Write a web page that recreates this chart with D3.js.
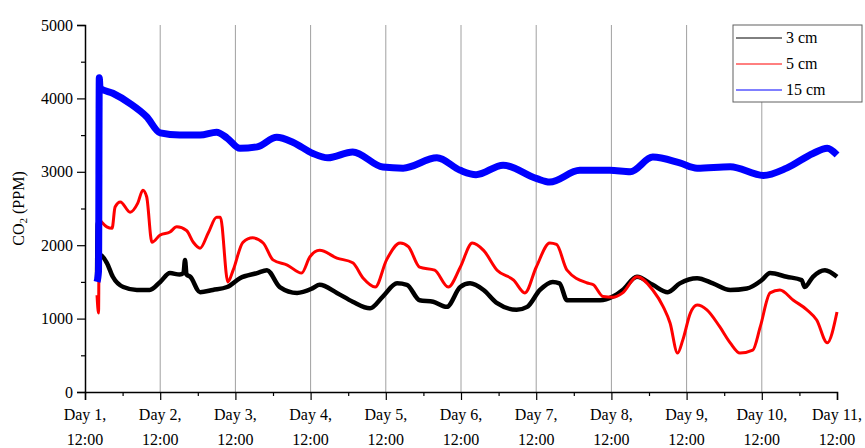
<!DOCTYPE html>
<html>
<head>
<meta charset="utf-8">
<script src="https://cdn.jsdelivr.net/npm/d3@7"></script>
<style>
  body { margin: 0; background: #fff; }
  text { font-family: "Liberation Serif", "DejaVu Serif", serif; fill: #000; }
</style>
</head>
<body>
<svg id="chart" width="865" height="448"></svg>
<script>
// tick labels for the day axis
var dayTicks = [1, 2, 3, 4, 5, 6, 7, 8, 9, 10, 11];
var yTicks = [0, 1000, 2000, 3000, 4000, 5000];

// 3 cm sensor (day, ppm)
var days3 = [1.16, 1.17, 1.18, 1.2, 1.29, 1.37, 1.51, 1.69, 1.86, 2.0, 2.13, 2.26, 2.31, 2.33, 2.35, 2.4, 2.53, 2.7, 2.89, 3.06, 3.29, 3.42, 3.59, 3.82, 4.03, 4.12, 4.35, 4.56, 4.79, 4.96, 5.15, 5.28, 5.45, 5.63, 5.81, 5.99, 6.12, 6.3, 6.48, 6.74, 6.88, 7.05, 7.22, 7.31, 7.41, 7.68, 7.85, 8.02, 8.15, 8.34, 8.55, 8.75, 8.91, 9.14, 9.35, 9.58, 9.8, 10.0, 10.11, 10.33, 10.53, 10.57, 10.68, 10.84, 11.0];
var ppm3 = [1550, 2300, 1700, 1870, 1760, 1570, 1430, 1390, 1390, 1500, 1620, 1600, 1620, 1800, 1600, 1570, 1360, 1390, 1430, 1550, 1620, 1660, 1430, 1350, 1415, 1460, 1350, 1230, 1140, 1300, 1480, 1460, 1250, 1230, 1160, 1430, 1480, 1390, 1210, 1120, 1160, 1390, 1500, 1480, 1250, 1250, 1250, 1300, 1390, 1570, 1460, 1360, 1480, 1550, 1480, 1390, 1410, 1525, 1620, 1570, 1525, 1430, 1570, 1660, 1570];

// 5 cm sensor (day, ppm)
var days5 = [1.16, 1.18, 1.19, 1.2, 1.29, 1.36, 1.4, 1.47, 1.6, 1.7, 1.77, 1.82, 1.89, 2.0, 2.13, 2.22, 2.35, 2.44, 2.53, 2.64, 2.75, 2.8, 2.9, 2.97, 3.1, 3.23, 3.37, 3.5, 3.69, 3.88, 3.99, 4.12, 4.35, 4.56, 4.7, 4.86, 5.01, 5.19, 5.3, 5.45, 5.65, 5.83, 5.99, 6.15, 6.3, 6.48, 6.7, 6.85, 7.0, 7.18, 7.27, 7.41, 7.68, 7.76, 7.89, 8.02, 8.15, 8.34, 8.55, 8.69, 8.78, 8.88, 8.95, 9.05, 9.14, 9.27, 9.44, 9.58, 9.71, 9.88, 9.98, 10.11, 10.24, 10.42, 10.6, 10.73, 10.87, 11.0];
var ppm5 = [1320, 1075, 2350, 2340, 2250, 2230, 2520, 2590, 2450, 2570, 2750, 2660, 2040, 2140, 2180, 2250, 2200, 2040, 1960, 2170, 2380, 2380, 1500, 1660, 2040, 2100, 2030, 1800, 1730, 1620, 1840, 1930, 1825, 1760, 1550, 1430, 1800, 2030, 1980, 1700, 1660, 1430, 1700, 2030, 1930, 1660, 1525, 1350, 1700, 2030, 2010, 1660, 1485, 1460, 1300, 1290, 1350, 1570, 1390, 1160, 940, 530, 710, 1075, 1185, 1120, 890, 670, 530, 570, 890, 1350, 1390, 1250, 1120, 980, 670, 1090];

// 15 cm sensor (day, ppm)
var days15 = [1.16, 1.18, 1.19, 1.2, 1.37, 1.6, 1.82, 2.0, 2.26, 2.53, 2.75, 2.89, 3.06, 3.29, 3.55, 3.77, 4.03, 4.23, 4.56, 4.96, 5.23, 5.68, 5.99, 6.2, 6.56, 7.0, 7.18, 7.58, 7.98, 8.25, 8.55, 8.91, 9.14, 9.58, 10.02, 10.33, 10.68, 10.87, 11.0];
var ppm15 = [1500, 1650, 4280, 4140, 4070, 3930, 3750, 3530, 3500, 3500, 3540, 3460, 3320, 3340, 3470, 3400, 3250, 3190, 3270, 3065, 3050, 3190, 3020, 2960, 3090, 2910, 2860, 3020, 3020, 3000, 3200, 3120, 3050, 3070, 2950, 3050, 3250, 3320, 3230];

var seriesNames = ["3 cm", "5 cm", "15 cm"];
var seriesColors = ["#000000", "#ff0000", "#0000ff"];

var svg = d3.select("#chart");
var margin = {left: 85, right: 28, top: 25, bottom: 56};
var width = 865 - margin.left - margin.right;
var height = 448 - margin.top - margin.bottom;

var x = d3.scaleLinear().domain([1, 11]).range([margin.left, margin.left + width]);
var y = d3.scaleLinear().domain([0, 5000]).range([margin.top + height, margin.top]);

// vertical grid lines at each day
svg.append("g")
    .selectAll("line")
    .data(dayTicks.slice(1, -1))
    .enter().append("line")
    .attr("x1", function(d) { return x(d); })
    .attr("x2", function(d) { return x(d); })
    .attr("y1", y(5000))
    .attr("y2", y(0))
    .attr("stroke", "#a0a0a0")
    .attr("stroke-width", 1);

// data lines
var line = d3.line()
    .curve(d3.curveMonotoneX)
    .x(function(d) { return x(d[0]); })
    .y(function(d) { return y(d[1]); });

var series = [
    {days: days3, ppm: ppm3, w: 4.5},
    {days: days5, ppm: ppm5, w: 3},
    {days: days15, ppm: ppm15, w: 7}
];
[0, 1, 2].forEach(function(i) {
    var s = series[i];
    var pts = s.days.map(function(d, k) { return [d, s.ppm[k]]; });
    svg.append("path")
        .datum(pts)
        .attr("fill", "none")
        .attr("stroke", seriesColors[i])
        .attr("stroke-width", s.w)
        .attr("stroke-linejoin", "round")
        .attr("d", line);
});

// y axis
var yAxis = svg.append("g")
    .attr("transform", "translate(" + margin.left + ",0)")
    .call(d3.axisLeft(y).tickValues(yTicks).tickSize(8).tickPadding(4).tickFormat(d3.format("d")));
yAxis.selectAll("text").style("font-size", "16px").style("font-family", "Liberation Serif, serif");
svg.append("g")
    .attr("transform", "translate(" + margin.left + ",0)")
    .call(d3.axisLeft(y).tickValues([500, 1500, 2500, 3500, 4500]).tickSize(4).tickFormat(""))
    .select(".domain").remove();

// x axis
svg.append("g")
    .attr("transform", "translate(0," + (margin.top + height) + ")")
    .call(d3.axisBottom(x).tickValues(dayTicks).tickSize(8).tickFormat(""));
svg.append("g")
    .attr("transform", "translate(0," + (margin.top + height) + ")")
    .call(d3.axisBottom(x).tickValues(d3.range(1.5, 11, 1)).tickSize(4).tickFormat(""))
    .select(".domain").remove();

svg.selectAll(".domain").attr("stroke-width", 1.5);
svg.selectAll(".tick line").attr("stroke-width", 1.2);

var xl = svg.append("g");
dayTicks.forEach(function(d) {
    var t = xl.append("text")
        .attr("x", x(d))
        .attr("text-anchor", "middle")
        .style("font-size", "16px");
    t.append("tspan").attr("x", x(d)).attr("y", 420).text("Day " + d + ",");
    t.append("tspan").attr("x", x(d)).attr("y", 445).text("12:00");
});

// y label
var yl = svg.append("text")
    .attr("transform", "translate(24," + (margin.top + height / 2) + ") rotate(-90)")
    .attr("text-anchor", "middle")
    .style("font-size", "16px");
yl.append("tspan").text("CO");
yl.append("tspan").text("2").style("font-size", "11px").attr("dy", 3);
yl.append("tspan").text(" (PPM)").attr("dy", -3);

// legend
var lg = svg.append("g").attr("transform", "translate(733,25)");
lg.append("rect")
    .attr("width", 129)
    .attr("height", 77)
    .attr("fill", "#fff")
    .attr("stroke", "#606060")
    .attr("stroke-width", 1);
seriesNames.forEach(function(name, i) {
    var yy = 13 + i * 26;
    lg.append("line")
        .attr("x1", 3).attr("x2", 49)
        .attr("y1", yy).attr("y2", yy)
        .attr("stroke", seriesColors[i])
        .attr("stroke-width", 1);
    lg.append("text")
        .attr("x", 53)
        .attr("y", yy + 5)
        .style("font-size", "16px")
        .text(name);
});
</script>
</body>
</html>
